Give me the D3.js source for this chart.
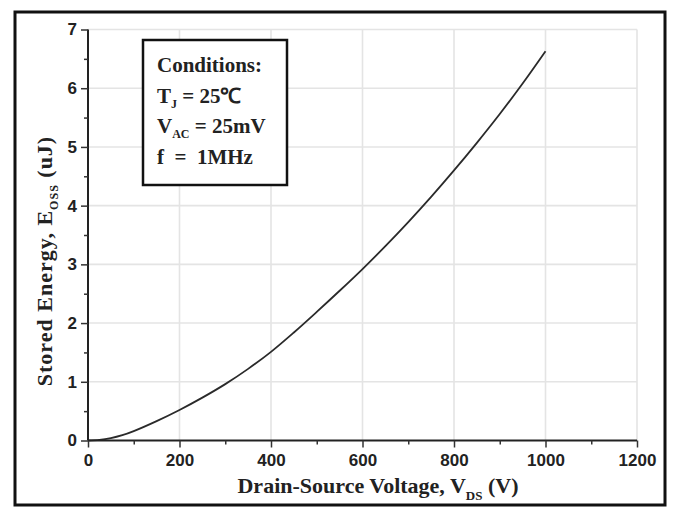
<!DOCTYPE html>
<html>
<head>
<meta charset="utf-8">
<script src="https://cdn.jsdelivr.net/npm/d3@7"></script>
<style>
  html, body { margin: 0; padding: 0; background: #fff; }
  svg { display: block; }
</style>
</head>
<body>
<svg id="chart" width="674" height="509"></svg>
<script>
// ---- data ----
const voltage = [0, 25, 50, 75, 100, 150, 200, 250, 300, 350, 400, 450, 500, 550, 600, 650, 700, 750, 800, 850, 900, 950, 1000];
const energy  = [0, 0.01, 0.04, 0.09, 0.16, 0.33, 0.52, 0.73, 0.96, 1.22, 1.51, 1.84, 2.19, 2.55, 2.92, 3.31, 3.72, 4.15, 4.6, 5.07, 5.56, 6.08, 6.63];
const xTicks = [0, 200, 400, 600, 800, 1000, 1200];
const xMinorTicks = [100, 300, 500, 700, 900, 1100];
const yTicks = [0, 1, 2, 3, 4, 5, 6, 7];
const yMinorTicks = [0.5, 1.5, 2.5, 3.5, 4.5, 5.5, 6.5];
const conditions = ["Conditions:", "T|J| = 25℃", "V|AC| = 25mV", "f  =  1MHz"];

const svg = d3.select("#chart");
const x = d3.scaleLinear().domain([0, 1200]).range([88, 637]);
const y = d3.scaleLinear().domain([0, 7]).range([440.5, 29.5]);

// outer frame
svg.append("rect").attr("x", 15).attr("y", 12).attr("width", 650).attr("height", 493)
  .attr("fill", "none").attr("stroke", "#111").attr("stroke-width", 3);

// gridlines
const grid = svg.append("g").attr("stroke", "#e4e4e4").attr("stroke-width", 1.6);
grid.selectAll("line.v").data(xTicks.slice(1)).join("line")
  .attr("x1", d => x(d)).attr("x2", d => x(d)).attr("y1", y(7)).attr("y2", y(0));
grid.selectAll("line.h").data(yTicks.slice(1)).join("line")
  .attr("x1", x(0)).attr("x2", x(1200)).attr("y1", d => y(d)).attr("y2", d => y(d));

// curve
const pts = voltage.map((v, i) => [v, energy[i]]);
svg.append("path").datum(pts)
  .attr("fill", "none").attr("stroke", "#2a2a2a").attr("stroke-width", 1.8)
  .attr("d", d3.line().x(d => x(d[0])).y(d => y(d[1])).curve(d3.curveCatmullRom));

// axes
const tickFont = "'Liberation Sans', Arial, sans-serif";
const xAxis = svg.append("g").attr("transform", `translate(0,${y(0)})`)
  .call(d3.axisBottom(x).tickValues(xTicks).tickSize(7).tickPadding(6).tickFormat(d3.format("d")));
const xMinor = svg.append("g").attr("transform", `translate(0,${y(0)})`)
  .call(d3.axisBottom(x).tickValues(xMinorTicks).tickSize(4).tickFormat(""));
xMinor.select(".domain").remove();
const yAxis = svg.append("g").attr("transform", `translate(${x(0)},0)`)
  .call(d3.axisLeft(y).tickValues(yTicks).tickSize(7).tickPadding(4).tickFormat(d3.format("d")));
const yMinor = svg.append("g").attr("transform", `translate(${x(0)},0)`)
  .call(d3.axisLeft(y).tickValues(yMinorTicks).tickSize(4).tickFormat(""));
yMinor.select(".domain").remove();

[xAxis, yAxis, xMinor, yMinor].forEach(g => {
  g.select(".domain").attr("stroke", "#222").attr("stroke-width", 2);
  g.selectAll(".tick line").attr("stroke", "#333").attr("stroke-width", 1.5);
  g.selectAll(".tick text").attr("fill", "#222")
    .style("font-family", tickFont).style("font-size", "17px").style("font-weight", "bold");
});
xAxis.select(".domain").attr("d", `M${x(0)},0H${x(1200)}`);
yAxis.select(".domain").attr("d", `M0,${y(0)}V${y(7)}`);

const serif = "'Liberation Serif', 'Times New Roman', serif";

// x label
const xl = svg.append("text").attr("x", 378).attr("y", 493).attr("text-anchor", "middle")
  .attr("fill", "#222").style("font-family", serif).style("font-size", "22px").style("font-weight", "bold");
xl.append("tspan").text("Drain-Source Voltage, V");
xl.append("tspan").attr("dy", 7).style("font-size", "13px").text("DS");
xl.append("tspan").attr("dy", -7).text(" (V)");

// y label
const yl = svg.append("text").attr("transform", "translate(52,261) rotate(-90)").attr("text-anchor", "middle")
  .attr("fill", "#222").style("font-family", serif).style("font-size", "22px").style("font-weight", "bold")
  .style("letter-spacing", "1px");
yl.append("tspan").text("Stored Energy, E");
yl.append("tspan").attr("dy", 6).style("font-size", "12px").text("OSS");
yl.append("tspan").attr("dy", -6).text(" (uJ)");

// conditions box
svg.append("rect").attr("x", 143).attr("y", 40).attr("width", 144).attr("height", 145)
  .attr("fill", "#fff").attr("stroke", "#111").attr("stroke-width", 2.5);
const box = svg.append("g").attr("fill", "#222").style("font-family", serif)
  .style("font-size", "21px").style("font-weight", "bold");
conditions.forEach((line, i) => {
  const t = box.append("text").attr("x", 157).attr("y", 72 + i * 30.5).attr("xml:space", "preserve");
  const parts = line.split("|");
  parts.forEach((p, j) => {
    const ts = t.append("tspan").text(p);
    if (j % 2 === 1) ts.attr("dy", 5).style("font-size", "12px");
    else if (j > 0) ts.attr("dy", -5);
  });
});
</script>
</body>
</html>
